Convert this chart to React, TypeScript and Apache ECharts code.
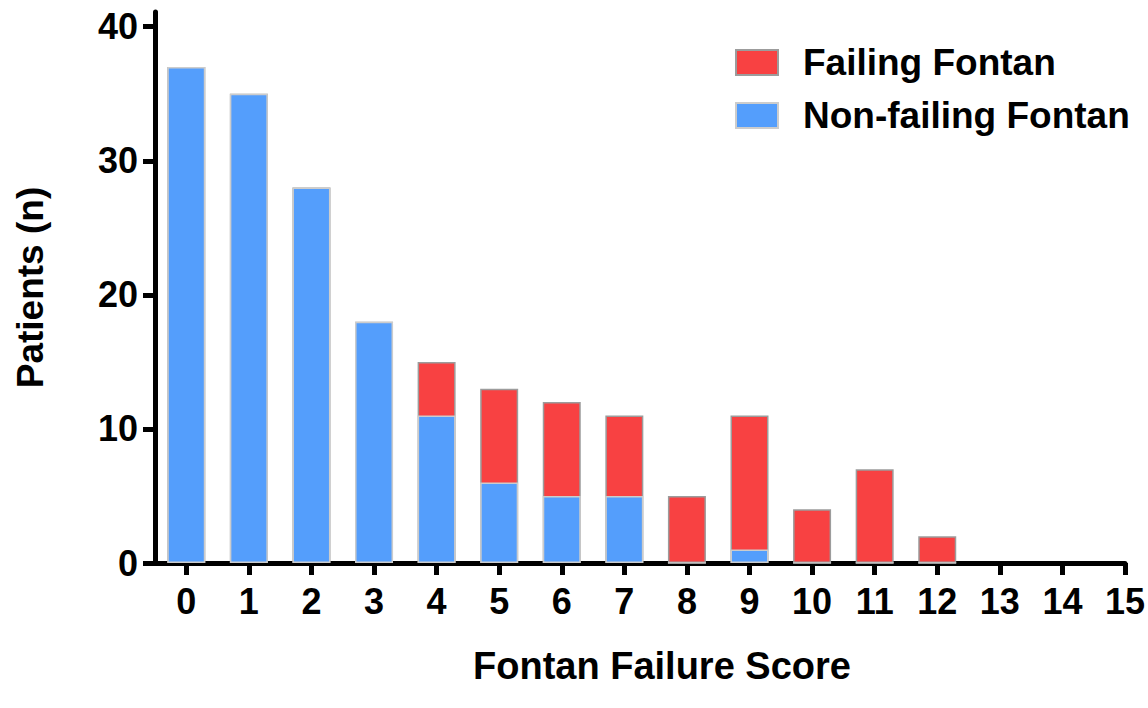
import React, { useEffect, useRef } from "react";
import * as echarts from "echarts";

const scores = [0, 1, 2, 3, 4, 5, 6, 7, 8, 9, 10, 11, 12];
const nonFailing = [37, 35, 28, 18, 11, 6, 5, 5, 0, 1, 0, 0, 0];
const failing = [0, 0, 0, 0, 4, 7, 7, 6, 5, 10, 4, 7, 2];
const xTicks = [0, 1, 2, 3, 4, 5, 6, 7, 8, 9, 10, 11, 12, 13, 14, 15];
const yTicks = [0, 10, 20, 30, 40];

const FONT = "'Liberation Sans', Arial, Helvetica, sans-serif";

export default function App() {
  const ref = useRef<HTMLDivElement>(null);
  useEffect(() => {
    if (!ref.current) return;
    const chart = echarts.init(ref.current, null, { renderer: "svg" });
    // Stacked totals (failing sits on top of non-failing)
    const totals = scores.map((_, i) => nonFailing[i] + failing[i]);
    chart.setOption({
      animation: false,
      backgroundColor: "#ffffff",
      textStyle: { fontFamily: FONT },
      grid: { left: 155, right: 12, top: 12, bottom: 145, containLabel: false },
      legend: {
        left: 730,
        top: 39,
        orient: "vertical",
        icon: "rect",
        itemWidth: 42,
        itemHeight: 25,
        itemGap: 16,
        data: ["Failing Fontan", "Non-failing Fontan"],
        textStyle: {
          fontFamily: FONT,
          fontSize: 37,
          fontWeight: "bold",
          color: "#000",
          padding: [0, 0, 0, 20],
        },
      },
      xAxis: {
        type: "value",
        min: -0.5,
        max: 15,
        name: "Fontan Failure Score",
        nameLocation: "middle",
        nameGap: 84,
        nameTextStyle: {
          fontFamily: FONT,
          fontSize: 38,
          fontWeight: "bold",
          color: "#000",
          padding: [0, 0, 0, 44],
        },
        splitLine: { show: false },
        axisLine: { show: true, lineStyle: { color: "#000", width: 5 } },
        axisTick: {
          show: true,
          customValues: xTicks,
          length: 12,
          lineStyle: { color: "#000", width: 5 },
        },
        axisLabel: {
          customValues: xTicks,
          margin: 20,
          fontFamily: FONT,
          fontSize: 36,
          fontWeight: "bold",
          color: "#000",
        },
      },
      yAxis: {
        type: "value",
        min: 0,
        max: 41.1,
        name: "Patients (n)",
        nameLocation: "middle",
        nameGap: 106,
        nameTextStyle: { fontFamily: FONT, fontSize: 37, fontWeight: "bold", color: "#000" },
        splitLine: { show: false },
        axisLine: { show: true, onZero: false, lineStyle: { color: "#000", width: 5 } },
        axisTick: {
          show: true,
          customValues: yTicks,
          length: 12,
          lineStyle: { color: "#000", width: 5 },
        },
        axisLabel: {
          customValues: yTicks,
          margin: 17,
          fontFamily: FONT,
          fontSize: 36,
          fontWeight: "bold",
          color: "#000",
        },
      },
      series: [
        {
          name: "Failing Fontan",
          type: "bar",
          barWidth: 38,
          barGap: "-100%",
          itemStyle: { color: "#F84142", borderColor: "#9c9c9c", borderWidth: 1.5 },
          data: scores.map((s, i) => [s, totals[i]]),
          z: 2,
        },
        {
          name: "Non-failing Fontan",
          type: "bar",
          barWidth: 38,
          barGap: "-100%",
          itemStyle: { color: "#549EFC", borderColor: "#cccccc", borderWidth: 1.5 },
          data: scores.map((s, i) => [s, nonFailing[i]]),
          z: 3,
        },
      ],
    });
    return () => chart.dispose();
  }, []);
  return (
    <div
      ref={ref}
      style={{ position: "absolute", left: 0, top: 0, width: 1148, height: 708 }}
    />
  );
}
